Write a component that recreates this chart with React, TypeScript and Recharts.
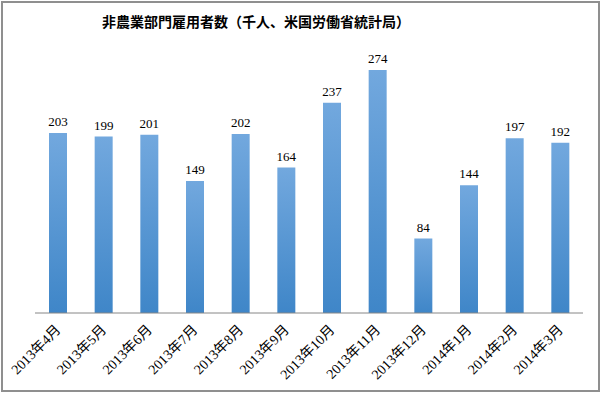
import React from 'react';
import { BarChart, Bar, XAxis, YAxis, LabelList } from 'recharts';

const months = [
  '2013年4月', '2013年5月', '2013年6月', '2013年7月', '2013年8月', '2013年9月',
  '2013年10月', '2013年11月', '2013年12月', '2014年1月', '2014年2月', '2014年3月',
];
const jobs = [203, 199, 201, 149, 202, 164, 237, 274, 84, 144, 197, 192];

const data = months.map((m, i) => ({ month: m, value: jobs[i] }));

const serif = '"Liberation Serif", "Times New Roman", "Noto Sans CJK JP", serif';

const AngledTick = (props: any) => {
  const { x, y, payload } = props;
  return (
    <g transform={`translate(${x - 2},${y + 4})`}>
      <text
        x={0}
        y={0}
        dy={8}
        textAnchor="end"
        transform="rotate(-45)"
        fontSize={14}
        fontFamily={serif}
        fill="#000"
      >
        {payload.value}
      </text>
    </g>
  );
};

export default function App() {
  return (
    <div style={{ position: 'absolute', left: 0, top: 0, width: 603, height: 395, background: '#fff' }}>
      <div
        style={{
          position: 'absolute',
          left: 1,
          top: 1,
          width: 595,
          height: 387,
          border: '2px solid #8f8f8f',
        }}
      />
      <div
        style={{
          position: 'absolute',
          left: 0,
          top: 12,
          width: 512,
          textAlign: 'center',
          fontFamily: '"Noto Sans CJK JP", sans-serif',
          fontWeight: 'bold',
          fontSize: 14,
          lineHeight: '18px',
          color: '#000',
        }}
      >
        非農業部門雇用者数（千人、米国労働省統計局）
      </div>
      <BarChart
        width={603}
        height={395}
        data={data}
        margin={{ top: 47, right: 20, bottom: 0, left: 35 }}
        barSize={18}
        style={{ position: 'absolute', left: 0, top: 0 }}
      >
        <defs>
          <linearGradient id="barGrad" x1="0" y1="0" x2="0" y2="1">
            <stop offset="0%" stopColor="#72a8de" />
            <stop offset="100%" stopColor="#3f86c8" />
          </linearGradient>
        </defs>
        <XAxis
          dataKey="month"
          height={82}
          interval={0}
          tickLine={false}
          axisLine={{ stroke: '#868686', strokeWidth: 1 }}
          tick={<AngledTick />}
        />
        <YAxis hide domain={[0, 300]} />
        <Bar dataKey="value" fill="url(#barGrad)" isAnimationActive={false}>
          <LabelList
            dataKey="value"
            position="top"
            offset={7}
            fontSize={13}
            fontFamily={serif}
            fill="#000"
          />
        </Bar>
      </BarChart>
    </div>
  );
}
